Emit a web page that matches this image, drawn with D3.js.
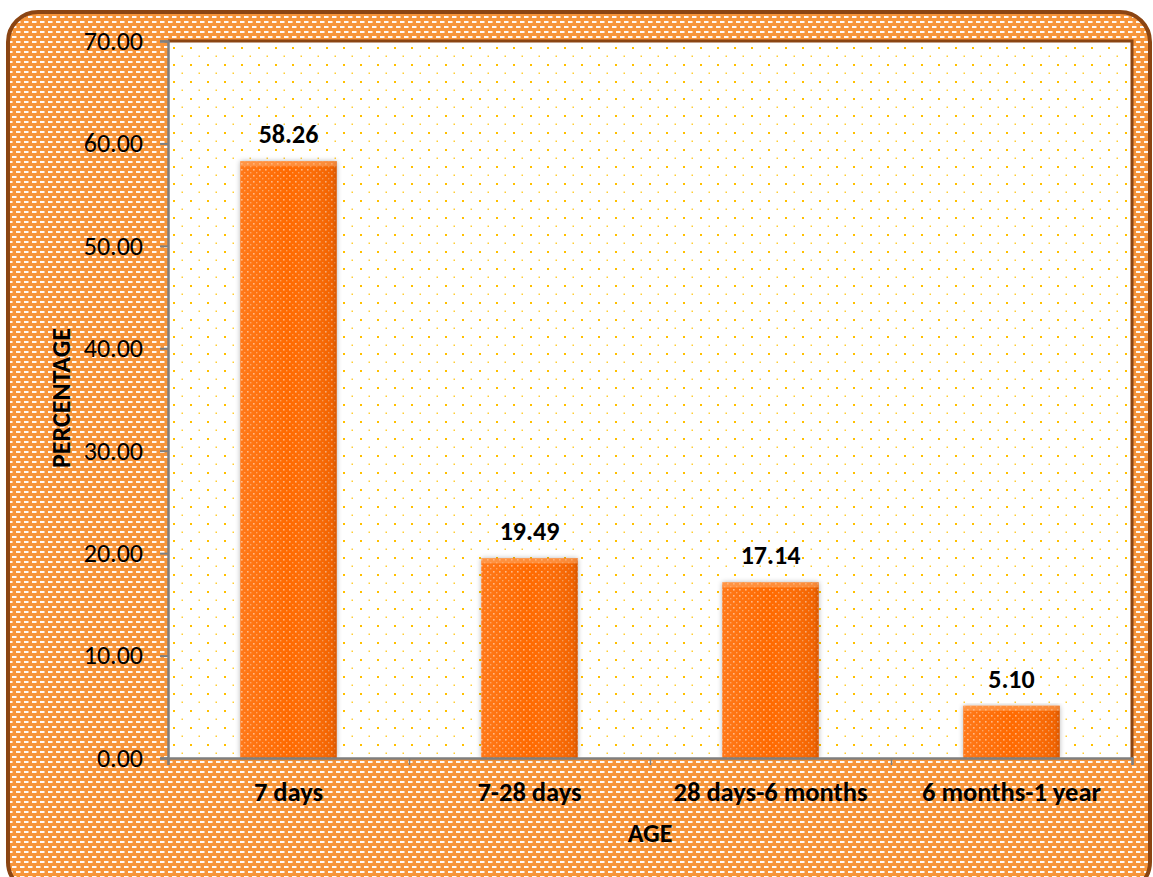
<!DOCTYPE html>
<html><head><meta charset="utf-8">
<script src="https://cdn.jsdelivr.net/npm/d3@7/dist/d3.min.js"></script>
<style>body{margin:0;background:#fff;}svg{display:block;}</style>
</head><body>
<script>
const categories = ["7 days", "7-28 days", "28 days-6 months", "6 months-1 year"];
const values = [58.26, 19.49, 17.14, 5.10];
const yTicks = [0, 10, 20, 30, 40, 50, 60, 70];
const yTitle = "PERCENTAGE";
const xTitle = "AGE";

const W = 1153, H = 877;
const m = {left: 168, right: 1132, top: 41, bottom: 758};
const font = "Calibri, Carlito, 'Open Sans', 'Liberation Sans', sans-serif";

const svg = d3.select("body").append("svg").attr("width", W).attr("height", H);
const defs = svg.append("defs");

// outer pattern: orange with white dashes
const po = defs.append("pattern").attr("id", "outerPat").attr("patternUnits", "userSpaceOnUse")
  .attr("width", 8).attr("height", 10);
po.append("rect").attr("width", 8).attr("height", 10).attr("fill", "#F7953A");
po.append("rect").attr("x", 0).attr("y", 1).attr("width", 4.5).attr("height", 2).attr("fill", "#fff").attr("opacity", 0.95);
po.append("rect").attr("x", 4).attr("y", 6).attr("width", 4.5).attr("height", 2).attr("fill", "#fff").attr("opacity", 0.95);
po.append("rect").attr("x", -4).attr("y", 6).attr("width", 4.5).attr("height", 2).attr("fill", "#fff").attr("opacity", 0.95);

// plot pattern: white with yellow dots
const pp = defs.append("pattern").attr("id", "plotPat").attr("patternUnits", "userSpaceOnUse")
  .attr("width", 17).attr("height", 17).attr("x", m.left).attr("y", m.top);
pp.append("rect").attr("width", 17).attr("height", 17).attr("fill", "#fff");
pp.append("rect").attr("x", 5).attr("y", 6).attr("width", 2).attr("height", 2).attr("fill", "#FFC000");
pp.append("rect").attr("x", 13.5).attr("y", 14.5).attr("width", 1.5).attr("height", 1.5).attr("fill", "#FFC000").attr("opacity", 0.8);

// bar pattern
const pb = defs.append("pattern").attr("id", "barPat").attr("patternUnits", "userSpaceOnUse")
  .attr("width", 6).attr("height", 6);
pb.append("rect").attr("width", 6).attr("height", 6).attr("fill", "#FF6A00");
pb.append("rect").attr("x", 1).attr("y", 1).attr("width", 1.6).attr("height", 1.6).attr("fill", "#fff").attr("opacity", 0.5);
pb.append("rect").attr("x", 4).attr("y", 4).attr("width", 1.4).attr("height", 1.4).attr("fill", "#fff").attr("opacity", 0.35);

const lg = defs.append("linearGradient").attr("id", "bevel").attr("x1", 0).attr("y1", 0).attr("x2", 1).attr("y2", 0);
lg.append("stop").attr("offset", "0").attr("stop-color", "#fff").attr("stop-opacity", 0.1);
lg.append("stop").attr("offset", "0.5").attr("stop-color", "#fff").attr("stop-opacity", 0);
lg.append("stop").attr("offset", "0.95").attr("stop-color", "#8a3000").attr("stop-opacity", 0.12);
lg.append("stop").attr("offset", "1").attr("stop-color", "#8a3000").attr("stop-opacity", 0.35);

const sh = defs.append("filter").attr("id", "shadow").attr("x", "-20%").attr("y", "-5%").attr("width", "140%").attr("height", "110%");
sh.append("feDropShadow").attr("dx", 0).attr("dy", 0).attr("stdDeviation", 2.5).attr("flood-color", "#000").attr("flood-opacity", 0.3);

// outer frame
svg.append("rect").attr("x", 8).attr("y", 12).attr("width", 1142).attr("height", 880).attr("rx", 30)
  .attr("fill", "url(#outerPat)").attr("stroke", "#8B4513").attr("stroke-width", 4);

// plot area
svg.append("rect").attr("x", m.left).attr("y", m.top).attr("width", m.right - m.left).attr("height", m.bottom - m.top)
  .attr("fill", "url(#plotPat)");
svg.append("path").attr("d", `M${m.left},${m.top}H${m.right}V${m.bottom}`).attr("fill", "none")
  .attr("stroke", "#8B4513").attr("stroke-width", 3);

const x = d3.scaleBand().domain(categories).range([m.left, m.right]).paddingInner(0.6).paddingOuter(0.3);
const y = d3.scaleLinear().domain([0, 70]).range([m.bottom, m.top]);

// bars
const bars = svg.append("g").selectAll("g").data(values).join("g");
bars.append("rect").attr("x", (d, i) => x(categories[i])).attr("y", d => y(d))
  .attr("width", x.bandwidth()).attr("height", d => y(0) - y(d))
  .attr("fill", "url(#barPat)").attr("filter", "url(#shadow)");
bars.append("rect").attr("x", (d, i) => x(categories[i])).attr("y", d => y(d))
  .attr("width", x.bandwidth()).attr("height", d => y(0) - y(d))
  .attr("fill", "url(#bevel)");
bars.append("rect").attr("x", (d, i) => x(categories[i])).attr("y", d => y(d))
  .attr("width", x.bandwidth()).attr("height", 5).attr("fill", "#FFB070").attr("opacity", 0.5);

// value labels
svg.append("g").selectAll("text").data(values).join("text")
  .attr("x", (d, i) => x(categories[i]) + x.bandwidth() / 2).attr("y", d => y(d) - 18)
  .attr("text-anchor", "middle").attr("font-family", font).attr("font-weight", "bold")
  .attr("font-size", 26).attr("fill", "#000").text(d => d.toFixed(2));

// y axis
const yAxis = svg.append("g").attr("transform", `translate(${m.left},0)`)
  .call(d3.axisLeft(y).tickValues(yTicks).tickFormat(d => d.toFixed(2)).tickSize(8).tickPadding(17));
yAxis.select(".domain").attr("stroke", "#7f7f7f").attr("stroke-width", 2.5);
yAxis.selectAll(".tick line").attr("stroke", "#7f7f7f").attr("stroke-width", 2);
yAxis.selectAll("text").attr("font-family", font).attr("font-size", 26).attr("fill", "#000");

// x axis
const xb = d3.scaleLinear().domain([0, categories.length]).range([m.left, m.right]);
const xAxis = svg.append("g").attr("transform", `translate(0,${m.bottom})`)
  .call(d3.axisBottom(xb).tickValues(d3.range(0, categories.length + 1)).tickFormat("").tickSize(7));
xAxis.select(".domain").attr("stroke", "#7f7f7f").attr("stroke-width", 2.5);
xAxis.selectAll(".tick line").attr("stroke", "#7f7f7f").attr("stroke-width", 1.5);

svg.append("g").selectAll("text").data(categories).join("text")
  .attr("x", d => x(d) + x.bandwidth() / 2).attr("y", 801)
  .attr("text-anchor", "middle").attr("font-family", font).attr("font-weight", "bold")
  .attr("font-size", 26.5).attr("fill", "#000").text(d => d);

svg.append("text").attr("x", 650).attr("y", 842).attr("text-anchor", "middle")
  .attr("font-family", font).attr("font-weight", "bold").attr("font-size", 26).text(xTitle);

svg.append("text").attr("transform", "translate(70,398) rotate(-90)").attr("text-anchor", "middle")
  .attr("font-family", font).attr("font-weight", "bold").attr("font-size", 26).text(yTitle);
</script>
</body></html>
